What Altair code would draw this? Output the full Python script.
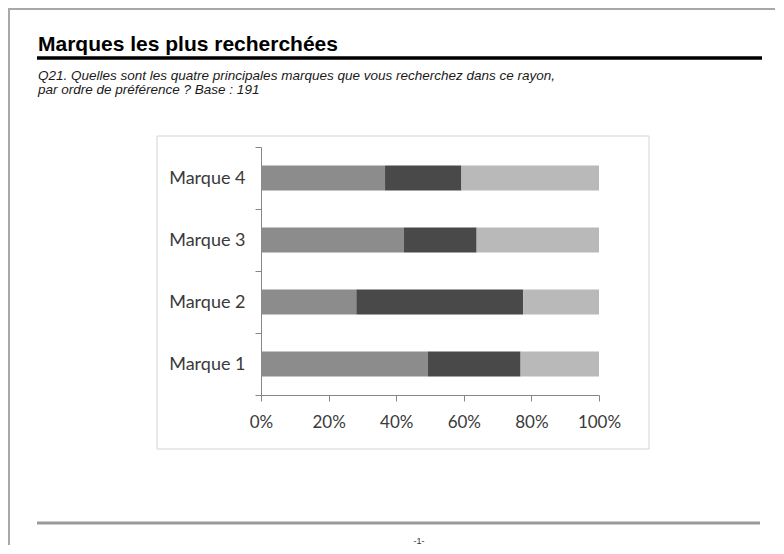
import altair as alt
import pandas as pd

# ---- data ----
marques = ["Marque 1", "Marque 2", "Marque 3", "Marque 4"]
series = ["Rang 1", "Rang 2", "Rang 3"]
rang1 = [49.3, 28.2, 42.2, 36.7]
rang2 = [27.5, 49.4, 21.6, 22.6]
rang3 = [23.2, 22.4, 36.2, 40.7]
colors = ["#8c8c8c", "#494949", "#b9b9b9"]
x_ticks = [0, 0.2, 0.4, 0.6, 0.8, 1.0]

title_text = "Marques les plus recherchées"
subtitle_1 = "Q21. Quelles sont les quatre principales marques que vous recherchez dans ce rayon,"
subtitle_2 = "par ordre de préférence ? Base : 191"
page_label = "-1-"

rows = []
for i, m in enumerate(marques):
    for k, (s, vals) in enumerate(zip(series, [rang1, rang2, rang3])):
        rows.append({"marque": m, "serie": s, "ordre": k, "valeur": vals[i]})
df = pd.DataFrame(rows)

AXIS_GREY = "#868686"
LABEL = "#3a3a3a"

bars = alt.Chart(df).mark_bar(size=25).encode(
    y=alt.Y(
        "marque:N",
        sort=list(reversed(marques)),
        scale=alt.Scale(paddingInner=0, paddingOuter=0),
        axis=alt.Axis(
            title=None, tickBand="extent", tickSize=6, tickColor=AXIS_GREY,
            domainColor=AXIS_GREY, labelFont="Lato", labelFontSize=18,
            labelColor=LABEL, labelPadding=10,
        ),
    ),
    x=alt.X(
        "valeur:Q",
        stack="normalize",
        scale=alt.Scale(domain=[0, 1], nice=False),
        axis=alt.Axis(
            title=None, values=x_ticks, format=".0%", grid=False, tickSize=6,
            tickColor=AXIS_GREY, domainColor=AXIS_GREY, labelFont="Lato",
            labelFontSize=17, labelColor=LABEL, labelPadding=13,
            labelFlush=False,
        ),
    ),
    color=alt.Color("serie:N", scale=alt.Scale(domain=series, range=colors), legend=None),
    order=alt.Order("ordre:Q", sort="ascending"),
)

one = pd.DataFrame({"k": [0]})

# decorations (page frame, chart frame, lines)
frame_box = alt.Chart(one).mark_rect(fillOpacity=0, stroke="#d4d4d4", strokeWidth=1).encode(
    x=alt.value(-104), x2=alt.value(388), y=alt.value(-11), y2=alt.value(302)
)
top_border = alt.Chart(one).mark_rule(color="#a8a8a8", strokeWidth=2).encode(
    x=alt.value(-253), x2=alt.value(523), y=alt.value(-138)
)
left_border = alt.Chart(one).mark_rule(color="#a8a8a8", strokeWidth=2).encode(
    x=alt.value(-252), y=alt.value(-138), y2=alt.value(410)
)
underline = alt.Chart(one).mark_rule(color="#000000", strokeWidth=3.5).encode(
    x=alt.value(-224), x2=alt.value(501), y=alt.value(-89)
)
footer_line = alt.Chart(one).mark_rule(color="#9a9a9a", strokeWidth=3).encode(
    x=alt.value(-224), x2=alt.value(499), y=alt.value(376)
)

title = alt.Chart(pd.DataFrame({"t": [title_text]})).mark_text(
    align="left", baseline="alphabetic", font="Liberation Sans",
    fontWeight="bold", fontSize=21, color="#000000",
).encode(x=alt.value(-223), y=alt.value(-96), text="t:N")

sub1 = alt.Chart(pd.DataFrame({"t": [subtitle_1]})).mark_text(
    align="left", baseline="alphabetic", font="Liberation Sans",
    fontStyle="italic", fontSize=13.5, color="#1a1a1a",
).encode(x=alt.value(-223), y=alt.value(-67), text="t:N")

sub2 = alt.Chart(pd.DataFrame({"t": [subtitle_2]})).mark_text(
    align="left", baseline="alphabetic", font="Liberation Sans",
    fontStyle="italic", fontSize=13.5, color="#1a1a1a",
).encode(x=alt.value(-223), y=alt.value(-53), text="t:N")

page_num = alt.Chart(pd.DataFrame({"t": [page_label]})).mark_text(
    align="center", baseline="middle", font="Liberation Sans",
    fontSize=9, color="#333333",
).encode(x=alt.value(158), y=alt.value(394), text="t:N")

chart = alt.layer(
    frame_box, bars, top_border, left_border, underline, footer_line,
    title, sub1, sub2, page_num,
).properties(
    width=338,
    height=248,
    autosize=alt.AutoSizeParams(type="none"),
    padding={"left": 253, "top": 139, "right": 176, "bottom": 150},
    background="white",
).configure_view(stroke=None)

chart.save("out.html", embed_options={"renderer": "svg", "actions": False})
